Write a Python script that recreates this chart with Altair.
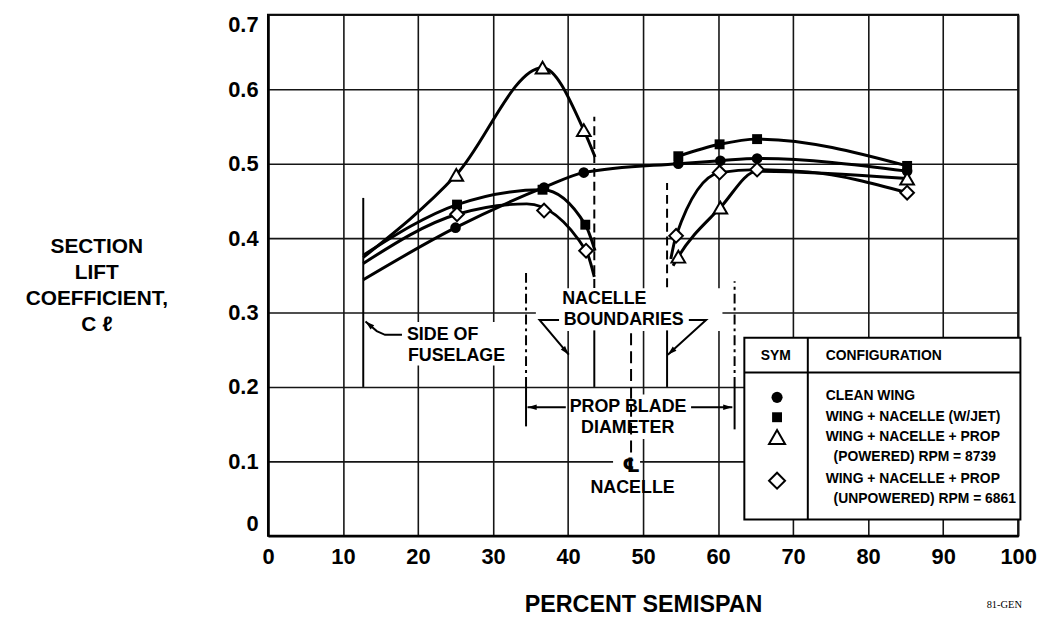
import altair as alt
import pandas as pd

# ---------------- measured points (markers) ----------------
clean_x = [25.0, 36.8, 42.1, 54.7, 60.3, 65.2, 85.2]
clean_y = [0.414, 0.468, 0.488, 0.500, 0.504, 0.507, 0.490]
jet_x = [25.2, 36.6, 42.3, 54.7, 60.2, 65.2, 85.2]
jet_y = [0.445, 0.465, 0.418, 0.510, 0.526, 0.533, 0.497]
pow_x = [25.1, 36.6, 42.1, 54.7, 60.3, 85.2]
pow_y = [0.485, 0.629, 0.545, 0.375, 0.441, 0.480]
unp_x = [25.2, 36.8, 42.4, 54.4, 60.2, 65.2, 85.2]
unp_y = [0.432, 0.437, 0.383, 0.403, 0.488, 0.492, 0.461]

# ---------------- faired curves ----------------
clean_cx = [12.7, 25.0, 36.8, 42.1, 54.7, 60.3, 65.2, 85.2]
clean_cy = [0.344, 0.414, 0.468, 0.488, 0.500, 0.504, 0.507, 0.490]
jet_lx = [12.7, 25.2, 36.6, 42.3, 43.6]
jet_ly = [0.377, 0.445, 0.465, 0.418, 0.383]
jet_rx = [54.7, 60.2, 65.2, 85.2]
jet_ry = [0.510, 0.526, 0.533, 0.497]
pow_lx = [12.7, 25.1, 36.6, 42.1, 43.6]
pow_ly = [0.374, 0.485, 0.629, 0.545, 0.509]
pow_rx = [54.0, 54.7, 60.3, 65.2, 85.2]
pow_ry = [0.363, 0.375, 0.441, 0.490, 0.480]
unp_lx = [12.7, 25.2, 34.5, 42.4, 43.5]
unp_ly = [0.366, 0.432, 0.446, 0.383, 0.348]
unp_rx = [53.7, 54.4, 60.2, 65.2, 72.0, 85.2]
unp_ry = [0.372, 0.403, 0.488, 0.492, 0.489, 0.461]

x_ticks = [0, 10, 20, 30, 40, 50, 60, 70, 80, 90, 100]
y_ticks = [0, 0.1, 0.2, 0.3, 0.4, 0.5, 0.6, 0.7]

legend_labels = ["CLEAN WING", "WING + NACELLE (W/JET)", "WING + NACELLE + PROP",
                 "(POWERED) RPM = 8739", "WING + NACELLE + PROP", "(UNPOWERED) RPM = 6861"]

FONT = "Liberation Sans"

# ---------------- scales / axes ----------------
XS = alt.Scale(domain=[0, 100], nice=False, zero=False)
YS = alt.Scale(domain=[0, 0.7], nice=False, zero=False)
x_axis = alt.Axis(values=x_ticks, grid=True, ticks=False, tickSize=0, labelPadding=11,
                  labelFont=FONT, labelFontWeight="bold", labelFontSize=22, labelColor="black",
                  labelFlush=False, labelOverlap=False, domainColor="black", domainWidth=2.5,
                  gridColor="#151515", gridWidth=1.6, gridOpacity=1,
                  title="PERCENT SEMISPAN", titleFont=FONT, titleFontSize=23.5, titleFontWeight="bold",
                  titleColor="black", titleBaseline="alphabetic", titleY=76)
y_axis = alt.Axis(values=y_ticks, grid=True, ticks=False, tickSize=0, labelPadding=10,
                  labelFont=FONT, labelFontWeight="bold", labelFontSize=22, labelColor="black",
                  labelFlush=True, labelOverlap=False,
                  labelExpr="datum.value == 0 ? '0' : format(datum.value, '.1f')",
                  domainColor="black", domainWidth=2.5,
                  gridColor="#151515", gridWidth=1.6, gridOpacity=1,
                  title=["SECTION", "LIFT", "COEFFICIENT,", "C \u2113"], titleFont=FONT,
                  titleFontSize=21, titleFontWeight="bold", titleColor="black", titleAngle=0,
                  titleAlign="center", titleBaseline="alphabetic", titleX=-173, titleY=240,
                  titleLineHeight=26)


def X(f="x"):
    return alt.X(f"{f}:Q", scale=XS, axis=x_axis)


def Y(f="y"):
    return alt.Y(f"{f}:Q", scale=YS, axis=y_axis)


def frame(pairs):
    rows = []
    for seg, xs, ys in pairs:
        for i, (a, b) in enumerate(zip(xs, ys)):
            rows.append({"seg": seg, "i": i, "x": a, "y": b})
    return pd.DataFrame(rows)


layers = []

# white masks behind annotation text (they interrupt the grid as in the drawing)
masks = pd.DataFrame({
    "x": [17.86, 35.71, 40.2, 46.0],
    "x2": [32.41, 60.58, 56.1, 49.6],
    "y": [0.2287, 0.2753, 0.13, 0.0793],
    "y2": [0.2873, 0.3327, 0.19, 0.11],
})
layers.append(alt.Chart(masks).mark_rect(fill="white", opacity=1).encode(
    x=X(), x2="x2:Q", y=Y(), y2="y2:Q"))

# annotation rules
solid_rules = pd.DataFrame({"x": [12.7, 43.5, 53.2, 34.4, 62.2],
                            "y": [0.2, 0.2, 0.2, 0.147, 0.143],
                            "y2": [0.454, 0.276, 0.276, 0.2, 0.2]})
layers.append(alt.Chart(solid_rules).mark_rule(color="black", strokeWidth=2).encode(
    x=X(), y=Y(), y2="y2:Q"))
dash_rules = pd.DataFrame({"x": [43.5, 53.2], "y": [0.333, 0.334], "y2": [0.563, 0.474]})
layers.append(alt.Chart(dash_rules).mark_rule(color="black", strokeWidth=2, strokeDash=[9, 5]).encode(
    x=X(), y=Y(), y2="y2:Q"))
cl_rule = pd.DataFrame({"x": [48.4], "y": [0.112], "y2": [0.277]})
layers.append(alt.Chart(cl_rule).mark_rule(color="black", strokeWidth=2, strokeDash=[12, 6]).encode(
    x=X(), y=Y(), y2="y2:Q"))
dd_rules = pd.DataFrame({"x": [34.4, 62.2], "y": [0.2, 0.2], "y2": [0.353, 0.342]})
layers.append(alt.Chart(dd_rules).mark_rule(color="black", strokeWidth=2, strokeDash=[10, 4, 3, 4]).encode(
    x=X(), y=Y(), y2="y2:Q"))

# annotation leader lines
leaders = frame([
    ("fus", [17.86, 15.6, 14.5, 13.0], [0.27, 0.27, 0.275, 0.288]),
    ("nacL", [38.8, 36.2, 40.1], [0.29, 0.29, 0.2433]),
    ("nacR", [56.1, 58.4, 53.3], [0.29, 0.29, 0.2433]),
    ("propL", [39.7, 34.6], [0.1727, 0.1727]),
    ("propR", [56.4, 61.9], [0.1727, 0.1727]),
])
layers.append(alt.Chart(leaders).mark_line(color="black", strokeWidth=2).encode(
    x=X(), y=Y(), detail="seg:N", order="i:Q"))

arrow_heads = pd.DataFrame({"x": [13.0, 40.1, 53.3, 34.6, 61.9],
                            "y": [0.288, 0.2433, 0.2433, 0.1727, 0.1727],
                            "ang": [311, 140, 228, 270, 90]})
layers.append(alt.Chart(arrow_heads).mark_point(
    shape="M0,0L0.7,2.3L-0.7,2.3Z", filled=True, color="black", opacity=1, size=64).encode(
    x=X(), y=Y(), angle=alt.Angle("ang:Q", scale=None)))

# legend box
legend_box = pd.DataFrame({"x": [63.5], "x2": [100.3], "y": [0.022], "y2": [0.266]})
layers.append(alt.Chart(legend_box).mark_rect(fill="white", stroke="black", strokeWidth=2, opacity=1).encode(
    x=X(), x2="x2:Q", y=Y(), y2="y2:Q"))
legend_h = pd.DataFrame({"x": [63.5], "x2": [100.3], "y": [0.2193]})
layers.append(alt.Chart(legend_h).mark_rule(color="black", strokeWidth=2).encode(
    x=X(), x2="x2:Q", y=Y()))
legend_v = pd.DataFrame({"x": [71.96], "y": [0.022], "y2": [0.266]})
layers.append(alt.Chart(legend_v).mark_rule(color="black", strokeWidth=2).encode(
    x=X(), y=Y(), y2="y2:Q"))

# curves
curves = frame([
    ("clean", clean_cx, clean_cy),
    ("jetL", jet_lx, jet_ly), ("jetR", jet_rx, jet_ry),
    ("powL", pow_lx, pow_ly), ("powR", pow_rx, pow_ry),
    ("unpL", unp_lx, unp_ly), ("unpR", unp_rx, unp_ry),
])
layers.append(alt.Chart(curves).mark_line(color="black", strokeWidth=3, interpolate="monotone").encode(
    x=X(), y=Y(), detail="seg:N"))

# markers
layers.append(alt.Chart(pd.DataFrame({"x": clean_x, "y": clean_y})).mark_point(
    shape="circle", filled=True, color="black", opacity=1, size=115).encode(x=X(), y=Y()))
layers.append(alt.Chart(pd.DataFrame({"x": jet_x, "y": jet_y})).mark_point(
    shape="square", filled=True, color="black", opacity=1, size=100).encode(x=X(), y=Y()))
layers.append(alt.Chart(pd.DataFrame({"x": pow_x, "y": pow_y})).mark_point(
    shape="triangle-up", filled=True, fill="white", stroke="black", strokeWidth=2, opacity=1,
    size=190).encode(x=X(), y=Y()))
layers.append(alt.Chart(pd.DataFrame({"x": unp_x, "y": unp_y})).mark_point(
    shape="diamond", filled=True, fill="white", stroke="black", strokeWidth=2, opacity=1,
    size=190).encode(x=X(), y=Y()))

# annotation text
ann_c = pd.DataFrame({"x": [44.84, 47.42, 48.0, 47.95, 48.6],
                      "y": [0.318, 0.29, 0.1727, 0.1447, 0.0647],
                      "t": ["NACELLE", "BOUNDARIES", "PROP BLADE", "DIAMETER", "NACELLE"]})
layers.append(alt.Chart(ann_c).mark_text(font=FONT, fontWeight="bold", fontSize=18, color="black",
                                         align="center", baseline="middle").encode(
    x=X(), y=Y(), text="t:N"))
ann_l = pd.DataFrame({"x": [18.52, 18.65], "y": [0.27, 0.242], "t": ["SIDE OF", "FUSELAGE"]})
layers.append(alt.Chart(ann_l).mark_text(font=FONT, fontWeight="bold", fontSize=18, color="black",
                                         align="left", baseline="middle").encode(
    x=X(), y=Y(), text="t:N"))
cl = pd.DataFrame({"x": [48.41], "y": [0.094], "t": ["\u2104"]})
layers.append(alt.Chart(cl).mark_text(font="DejaVu Sans", fontWeight="bold", fontSize=20, color="black",
                                      align="center", baseline="middle").encode(
    x=X(), y=Y(), text="t:N"))

# legend text
leg_head_c = pd.DataFrame({"x": [67.7], "y": [0.242], "t": ["SYM"]})
layers.append(alt.Chart(leg_head_c).mark_text(font=FONT, fontWeight="bold", fontSize=14, color="black",
                                              align="center", baseline="middle").encode(
    x=X(), y=Y(), text="t:N"))
leg_txt = pd.DataFrame({"x": [74.34, 74.34, 74.34, 74.34, 75.4, 74.34, 75.4],
                        "y": [0.242, 0.1873, 0.1593, 0.1327, 0.106, 0.0767, 0.05],
                        "t": ["CONFIGURATION"] + legend_labels})
layers.append(alt.Chart(leg_txt).mark_text(font=FONT, fontWeight="bold", fontSize=14, color="black",
                                           align="left", baseline="middle").encode(
    x=X(), y=Y(), text="t:N"))

# legend symbols
layers.append(alt.Chart(pd.DataFrame({"x": [67.86], "y": [0.186]})).mark_point(
    shape="circle", filled=True, color="black", opacity=1, size=125).encode(x=X(), y=Y()))
layers.append(alt.Chart(pd.DataFrame({"x": [67.86], "y": [0.1593]})).mark_point(
    shape="square", filled=True, color="black", opacity=1, size=100).encode(x=X(), y=Y()))
layers.append(alt.Chart(pd.DataFrame({"x": [67.86], "y": [0.1327]})).mark_point(
    shape="triangle-up", filled=True, fill="white", stroke="black", strokeWidth=2, opacity=1,
    size=260).encode(x=X(), y=Y()))
layers.append(alt.Chart(pd.DataFrame({"x": [67.86], "y": [0.074]})).mark_point(
    shape="diamond", filled=True, fill="white", stroke="black", strokeWidth=2, opacity=1,
    size=260).encode(x=X(), y=Y()))

# drawing number
gen = pd.DataFrame({"x": [95.8], "y": [-0.093], "t": ["81-GEN"]})
layers.append(alt.Chart(gen).mark_text(font="Liberation Serif", fontSize=10.5, color="black",
                                       align="left", baseline="middle").encode(
    x=X(), y=Y(), text="t:N"))

chart = alt.layer(*layers).properties(
    width=756, height=525,
    autosize=alt.AutoSizeParams(type="none"),
    padding={"left": 262, "top": 4.5, "right": 20, "bottom": 85},
    background="white",
).configure_view(stroke="black", strokeWidth=2)

chart.save("out.html", embed_options={"renderer": "svg", "actions": False})
